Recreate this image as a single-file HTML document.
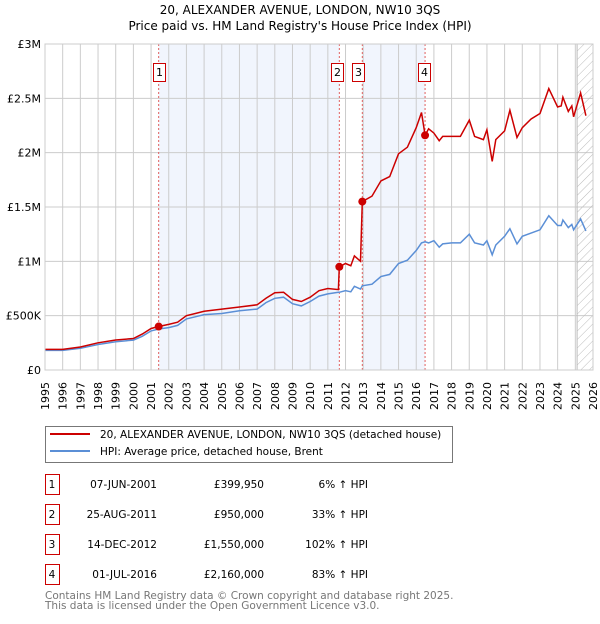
<!DOCTYPE html>
<html><head><meta charset="utf-8"><style>
body{margin:0;background:#fff;font-family:"DejaVu Sans","Liberation Sans",sans-serif;}
svg text{font-family:"DejaVu Sans","Liberation Sans",sans-serif;}
</style></head><body>
<svg id="c" width="600" height="620" xmlns="http://www.w3.org/2000/svg">
<defs><pattern id="hatch" width="6" height="6" patternUnits="userSpaceOnUse" patternTransform="rotate(45)"><line x1="0" y1="0" x2="0" y2="6" stroke="#bbb" stroke-width="1"/></pattern></defs>
<text x="300" y="14" text-anchor="middle" font-size="12">20, ALEXANDER AVENUE, LONDON, NW10 3QS</text>
<text x="300" y="30" text-anchor="middle" font-size="12">Price paid vs. HM Land Registry's House Price Index (HPI)</text>
<g id="plot"></g>
<g>
<rect x="45.5" y="426.5" width="407" height="36" fill="#fff" stroke="#777"/>
<line x1="50" y1="434" x2="90" y2="434" stroke="#cc0000" stroke-width="2"/>
<text x="100" y="438" font-size="10.5">20, ALEXANDER AVENUE, LONDON, NW10 3QS (detached house)</text>
<line x1="50" y1="451" x2="90" y2="451" stroke="#5b8fd6" stroke-width="2"/>
<text x="100" y="455" font-size="10.5">HPI: Average price, detached house, Brent</text>
</g>
<g id="table" font-size="11"></g>
<text x="45" y="599" font-size="10.5" fill="#777">Contains HM Land Registry data © Crown copyright and database right 2025.</text>
<text x="45" y="609" font-size="10.5" fill="#777">This data is licensed under the Open Government Licence v3.0.</text>
</svg>
<script>
const years=[1995,1996,1997,1998,1999,2000,2001,2002,2003,2004,2005,2006,2007,2008,2009,2010,2011,2012,2013,2014,2015,2016,2017,2018,2019,2020,2021,2022,2023,2024,2025,2026];
const yTicks=[0,500,1000,1500,2000,2500,3000];
const yTickLabels=["£0","£500K","£1M","£1.5M","£2M","£2.5M","£3M"];
const times=[1995,1996,1997,1998,1999,2000,2000.5,2001,2001.43,2002,2002.5,2003,2003.5,2004,2005,2006,2007,2007.5,2008,2008.5,2009,2009.5,2010,2010.5,2011,2011.6,2011.65,2012,2012.3,2012.5,2012.85,2012.95,2013.5,2014,2014.5,2015,2015.5,2016,2016.3,2016.5,2016.7,2017,2017.3,2017.5,2018,2018.5,2019,2019.3,2019.8,2020,2020.3,2020.5,2021,2021.3,2021.7,2022,2022.5,2023,2023.5,2024,2024.2,2024.3,2024.6,2024.8,2024.9,2025.3,2025.6];
const hpi=[180,180,200,235,260,275,310,360,377,390,410,470,490,510,520,545,560,620,660,670,610,590,630,680,700,715,715,730,720,770,745,775,790,860,880,980,1010,1100,1170,1180,1170,1190,1130,1160,1170,1170,1250,1170,1150,1190,1060,1150,1230,1300,1160,1230,1260,1290,1420,1330,1330,1380,1310,1340,1290,1390,1280];
const price=[190,190,212,250,276,290,330,382,400,420,440,500,520,540,560,580,600,660,710,715,650,630,670,730,750,740,950,980,960,1050,1000,1550,1600,1740,1780,1990,2050,2230,2370,2160,2220,2180,2110,2150,2150,2150,2300,2150,2120,2210,1920,2120,2200,2390,2140,2230,2310,2360,2590,2420,2430,2510,2380,2430,2330,2550,2340];
const saleLabels=["1","2","3","4"];
const saleTimes=[2001.43,2011.65,2012.95,2016.5];
const salePrices=[399.95,950,1550,2160];
const saleDates=["07-JUN-2001","25-AUG-2011","14-DEC-2012","01-JUL-2016"];
const salePriceText=["£399,950","£950,000","£1,550,000","£2,160,000"];
const saleHpiText=["6% ↑ HPI","33% ↑ HPI","102% ↑ HPI","83% ↑ HPI"];
const dataEnd=2025.1;

const L=45,R=593,T=44,B=370;
const xs=t=>L+(t-1995)/(2026-1995)*(R-L);
const ys=v=>B-v/3000*(B-T);
const NS="http://www.w3.org/2000/svg";
const plot=document.getElementById('plot');
function mk(tag,attrs,parent){const e=document.createElementNS(NS,tag);for(const k in attrs)e.setAttribute(k,attrs[k]);(parent||plot).appendChild(e);return e;}
for(let i=0;i<4;i+=2){
  const r=mk('rect',{x:xs(saleTimes[i]),y:T,width:xs(saleTimes[i+1])-xs(saleTimes[i]),height:B-T,fill:'#eef3fc',opacity:0.8});
  
  
}
years.forEach(y=>{
  const l=mk('line',{x1:xs(y),x2:xs(y),y1:T,y2:B,stroke:'#ccc','stroke-width':1});
  
  
  const x=xs(y)+4, yy=B+12;
  const t=mk('text',{x:x,y:yy,'text-anchor':'end','font-size':11,transform:'rotate(-90 '+x+' '+yy+')'});
  t.textContent=y;
  
  
});
yTicks.forEach((v,i)=>{
  const l=mk('line',{x1:L,x2:R,y1:ys(v),y2:ys(v),stroke:'#ccc','stroke-width':1});
  
  
  const t=mk('text',{x:L-4,y:ys(v)+4,'text-anchor':'end','font-size':11});
  t.textContent=yTickLabels[i];
  
  
});
const h=mk('rect',{x:xs(dataEnd),y:T,width:R-xs(dataEnd),height:B-T,fill:'url(#hatch)',stroke:'#bbb'});


saleTimes.forEach((s,i)=>{
  const l=mk('line',{x1:xs(s),x2:xs(s),y1:T,y2:B,stroke:'#e06060','stroke-width':1,'stroke-dasharray':'2,2'});
  
  
});
const boxX=[153,331,352,418];
saleLabels.forEach((lab,i)=>{
  const r=mk('rect',{x:boxX[i]+0.5,y:63.5,width:12,height:18,fill:'#fff',stroke:'#cc0000'});
  
  
  const t=mk('text',{x:boxX[i]+6.5,y:76,'text-anchor':'middle','font-size':11});
  t.textContent=lab;
  
  
});
function path(vals,color,name){
  const d=times.map((t,i)=>(i?'L':'M')+xs(t).toFixed(1)+','+ys(vals[i]).toFixed(1)).join('');
  const p=mk('path',{d:d,fill:'none',stroke:color,'stroke-width':1.5});
  
  
}
path(hpi,'#5b8fd6','hpi-line');
path(price,'#cc0000','price-line');
saleTimes.forEach((s,i)=>{
  const c=mk('circle',{cx:xs(s),cy:ys(salePrices[i]),r:4,fill:'#cc0000'});
  
  
});
const ax=mk('rect',{x:L,y:T,width:R-L,height:B-T,fill:'none',stroke:'#ccc'});


const tb=document.getElementById('table');
saleLabels.forEach((lab,i)=>{
  const y=483+i*30;
  const r=mk('rect',{x:45.5,y:y-8.5,width:14,height:20,fill:'#fff',stroke:'#cc0000'},tb);
  
  
  const cells=[[52,'middle',lab],[157,'end',saleDates[i]],[264,'end',salePriceText[i]],[368,'end',saleHpiText[i]]];
  cells.forEach(c=>{
    const t=mk('text',{x:c[0],y:y+5,'text-anchor':c[1],'font-size':10.5},tb);
    t.textContent=c[2];
    
    
  });
});
</script>
</body></html>
